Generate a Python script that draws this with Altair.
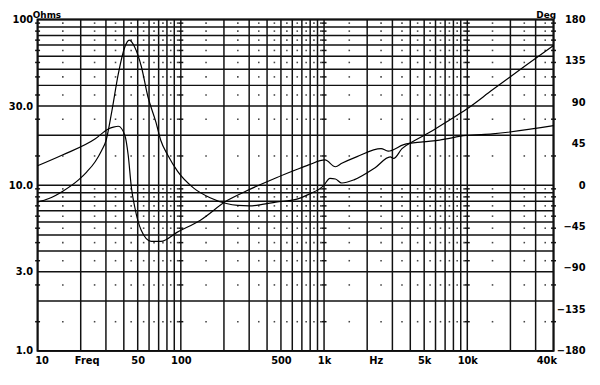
import altair as alt
import pandas as pd

# ---- data ----
imp_freq = [10, 12, 15, 19.4, 22, 25.3, 28, 30, 33, 36.6, 40.6, 43.6, 47.7, 53, 58.8, 67,
            72.5, 81, 95, 123, 160, 208, 250, 300, 370, 460, 637, 780, 990, 1100, 1200,
            1330, 1630, 2260, 2900, 3060, 3500, 4200, 5500, 7400, 9800, 15000, 25000, 40000]
imp_ohms = [7.9, 8.3, 9.2, 10.8, 12.0, 13.9, 16.2, 18.5, 28, 47, 68, 75, 68, 52, 34.4, 24,
            18.6, 15.2, 12.1, 9.6, 8.4, 7.75, 7.55, 7.5, 7.65, 7.9, 8.2, 8.8, 9.9, 11.0, 10.9,
            10.3, 10.8, 12.7, 14.8, 14.5, 16.6, 18.4, 20.9, 24.5, 28.6, 37.6, 52, 69.6]

ph_freq = [10, 14.9, 25.3, 31.2, 33.8, 36.6, 40.7, 42.9, 45.2, 47.7, 52.9, 62, 72.6, 94.6,
           137, 209, 286, 460, 637, 780, 1016, 1200, 1330, 1700, 2500, 2800, 3600, 4900,
           6400, 9800, 15000, 40000]
ph_deg = [21, 32.7, 50.4, 61, 63, 64, 54, 32.7, -2.9, -24, -49, -61, -61, -51,
          -38, -17, -6.4, 7.8, 16.7, 22, 27.4, 20, 23.7, 31, 39.7, 37, 44, 47,
          49, 54, 55.7, 64.6]

# ---- tick / grid positions ----
x_grid = [m * d for d in (10, 100, 1000) for m in range(1, 10)] + [10000, 20000, 30000, 40000]
y_grid = [m * d for d in (1, 10) for m in range(1, 10)] + [100]
x_half = [m * d for d in (10, 100, 1000) for m in (1.5, 2.5, 3.5, 4.5, 5.5, 6.5, 7.5, 8.5, 9.5)] + [15000, 25000, 35000]
y_half = [m * d for d in (1, 10) for m in (1.5, 2.5, 3.5, 4.5, 5.5, 6.5, 7.5, 8.5, 9.5)]
x_dash = [10, 100, 1000, 10000, 40000]

x_label_vals = [10, 22, 50, 100, 500, 1000, 2300, 5000, 10000, 40000]
x_label_text = ["10", "Freq", "50", "100", "500", "1k", "Hz", "5k", "10k", "40k"]
y_label_vals = [1, 3, 10, 30, 100]
deg_vals = [-180, -135, -90, -45, 0, 45, 90, 135, 180]

FONT = "DejaVu Sans"

xscale = alt.Scale(type="log", domain=[10, 40000], nice=False)
yscale = alt.Scale(type="log", domain=[1, 100], nice=False)
dscale = alt.Scale(domain=[-180, 180], nice=False)

x_lab_expr = "{" + ",".join(f"'{v}':'{t}'" for v, t in zip(x_label_vals, x_label_text)) + "}[datum.value]"

xaxis = alt.Axis(values=x_label_vals, labelExpr=x_lab_expr, title=None, grid=False,
                 ticks=False, tickSize=0, domain=False, labelFlush=True, labelFlushOffset=3,
                 labelOverlap=False, labelPadding=5, labelFont=FONT, labelFontSize=10,
                 labelFontWeight="bold", labelColor="black")
yaxis = alt.Axis(values=y_label_vals,
                 labelExpr="datum.value == 100 ? '100' : format(datum.value, '.1f')",
                 title="Ohms", titleAngle=0, titleX=9, titleY=-2, titleAlign="center",
                 titleBaseline="alphabetic", titleFont=FONT, titleFontSize=9, titleFontWeight="bold",
                 titleColor="black", grid=False, ticks=False, tickSize=0, domain=False,
                 labelOverlap=False, labelPadding=5, labelFont=FONT, labelFontSize=10,
                 labelFontWeight="bold", labelColor="black", labelBaseline="middle")
daxis = alt.Axis(orient="right", values=deg_vals, title="Deg", titleAngle=0, titleX=2, titleY=-2,
                 titleAlign="right", titleBaseline="alphabetic", titleFont=FONT, titleFontSize=9,
                 titleFontWeight="bold", titleColor="black", grid=False, ticks=False, tickSize=0,
                 domain=False, labelOverlap=False, labelAlign="right", labelPadding=32,
                 labelFont=FONT, labelFontSize=10, labelFontWeight="bold", labelColor="black",
                 labelBaseline="middle")

X = alt.X("f:Q", scale=xscale, axis=xaxis)
Y = alt.Y("v:Q", scale=yscale, axis=yaxis)

hgrid = alt.Chart(pd.DataFrame({"v": y_grid})).mark_rule(color="#111", strokeWidth=1.5).encode(y=Y)
vgrid = alt.Chart(pd.DataFrame({"f": x_grid})).mark_rule(color="#111", strokeWidth=1.5).encode(x=X)

dots_df = pd.DataFrame([(f, v) for f in x_half for v in y_half], columns=["f", "v"])
dots = alt.Chart(dots_df).mark_square(size=2.5, color="#444", opacity=1).encode(x=X, y=Y)

dash_df = pd.DataFrame([(f, v) for f in x_dash for v in y_half], columns=["f", "v"])
dashes = alt.Chart(dash_df).mark_point(shape="M-1,0L1,0", size=25, filled=False,
                                       strokeWidth=1.5, color="#111", opacity=1).encode(x=X, y=Y)

imp = alt.Chart(pd.DataFrame({"f": imp_freq, "v": imp_ohms})).mark_line(
    color="black", strokeWidth=1.2, interpolate="monotone").encode(x=X, y=Y)

left = alt.layer(hgrid, vgrid, dots, dashes, imp)

phase = alt.Chart(pd.DataFrame({"f": ph_freq, "d": ph_deg})).mark_line(
    color="black", strokeWidth=1.2, interpolate="monotone").encode(
    x=X, y=alt.Y("d:Q", scale=dscale, axis=daxis))

chart = alt.layer(left, phase).resolve_scale(y="independent").properties(
    width=523, height=336,
    autosize=alt.AutoSizeParams(type="none"),
    padding={"left": 30, "top": 9, "right": 39, "bottom": 32},
    background="white",
).configure_view(stroke="black", strokeWidth=2)

chart.save("out.html", embed_options={"renderer": "svg", "actions": False})
